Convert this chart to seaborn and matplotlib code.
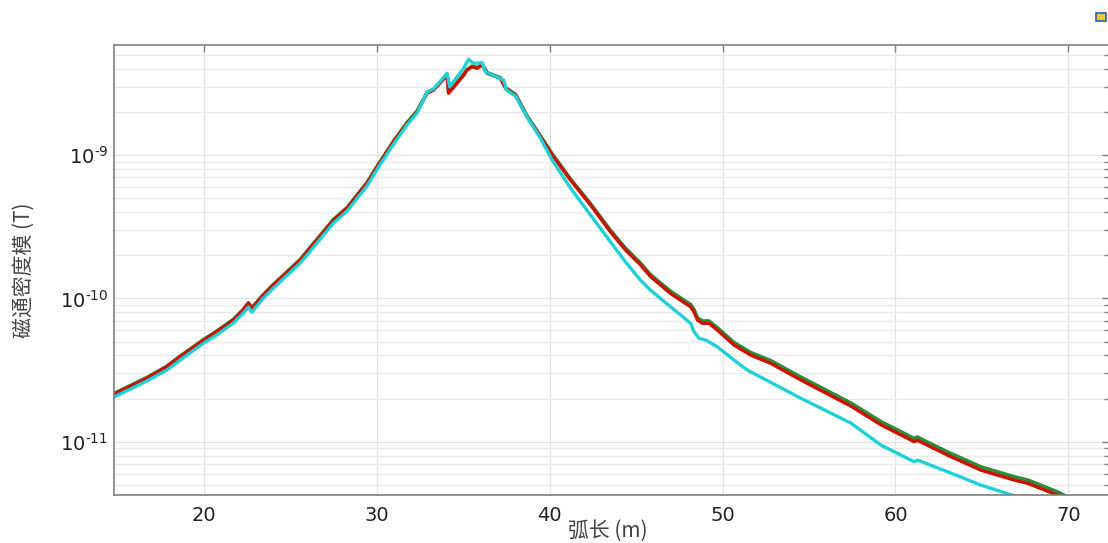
import matplotlib
matplotlib.use("Agg")
import matplotlib.pyplot as plt
import numpy as np
import pandas as pd
import seaborn as sns
from matplotlib.ticker import LogLocator, NullLocator, NullFormatter, FuncFormatter, FixedLocator
from matplotlib.patches import Rectangle

# ---- data (arc length in m, flux density norm in T) ----
arc_red = [14.81, 16.70, 17.86, 18.63, 20.00, 20.75, 21.71, 22.28, 22.58, 22.78,
           23.45, 24.03, 25.58, 27.50, 28.28, 29.44, 30.03, 30.79, 30.98, 31.75,
           32.33, 32.91, 33.29, 34.07, 34.16, 35.03, 35.23, 35.52, 35.81, 36.10,
           36.39, 37.16, 37.45, 38.03, 38.70, 39.47, 40.15, 41.21, 42.37, 43.53,
           44.40, 45.26, 45.84, 47.00, 48.16, 48.35, 48.55, 48.84, 49.22, 49.70,
           50.67, 51.63, 52.79, 54.54, 57.43, 59.17, 61.09, 61.25, 63.02, 64.95,
           66.88, 67.66, 69.39, 70.16]
B_red = [2.15e-11, 2.77e-11, 3.33e-11, 3.91e-11, 5.12e-11, 5.85e-11, 7.06e-11, 8.28e-11, 9.23e-11, 8.51e-11,
         1.054e-10, 1.24e-10, 1.85e-10, 3.52e-10, 4.25e-10, 6.36e-10, 8.28e-10, 1.143e-9, 1.24e-9, 1.66e-9,
         2.00e-9, 2.70e-9, 2.84e-9, 3.61e-9, 2.70e-9, 3.61e-9, 3.92e-9, 4.13e-9, 4.03e-9, 4.25e-9,
         3.72e-9, 3.43e-9, 2.92e-9, 2.62e-9, 1.85e-9, 1.34e-9, 1.00e-9, 6.69e-10, 4.48e-10, 2.90e-10,
         2.17e-10, 1.71e-10, 1.42e-10, 1.08e-10, 8.73e-11, 8.05e-11, 7.06e-11, 6.70e-11, 6.70e-11, 6.01e-11,
         4.72e-11, 4.02e-11, 3.52e-11, 2.69e-11, 1.77e-11, 1.31e-11, 1.00e-11, 1.026e-11, 8.05e-12, 6.33e-12,
         5.40e-12, 5.12e-12, 4.23e-12, 3.79e-12]

arc_green = arc_red
B_green = [2.17e-11, 2.80e-11, 3.36e-11, 3.95e-11, 5.17e-11, 5.91e-11, 7.13e-11, 8.36e-11, 9.32e-11, 8.60e-11,
           1.065e-10, 1.25e-10, 1.87e-10, 3.55e-10, 4.29e-10, 6.42e-10, 8.36e-10, 1.155e-9, 1.25e-9, 1.68e-9,
           2.02e-9, 2.73e-9, 2.87e-9, 3.65e-9, 2.73e-9, 3.65e-9, 3.96e-9, 4.17e-9, 4.07e-9, 4.29e-9,
           3.76e-9, 3.46e-9, 2.95e-9, 2.65e-9, 1.87e-9, 1.36e-9, 1.02e-9, 6.80e-10, 4.57e-10, 2.97e-10,
           2.23e-10, 1.76e-10, 1.46e-10, 1.12e-10, 9.05e-11, 8.35e-11, 7.33e-11, 6.96e-11, 6.96e-11, 6.25e-11,
           4.92e-11, 4.19e-11, 3.68e-11, 2.82e-11, 1.86e-11, 1.38e-11, 1.053e-11, 1.08e-11, 8.48e-12, 6.67e-12,
           5.69e-12, 5.40e-12, 4.46e-12, 4.00e-12]

arc_cyan = [14.81, 16.70, 17.86, 18.63, 20.00, 20.75, 21.71, 22.28, 22.58, 22.78,
            23.45, 24.03, 25.58, 27.50, 28.28, 29.44, 30.03, 30.79, 30.98, 31.75,
            32.33, 32.91, 33.29, 34.07, 34.22, 35.03, 35.31, 35.61, 36.10, 36.29,
            37.35, 37.50, 38.03, 38.70, 39.47, 40.15, 41.21, 42.37, 43.53, 44.40,
            45.26, 45.84, 47.00, 48.16, 48.35, 48.64, 49.03, 49.70, 50.67, 51.44,
            54.53, 57.42, 59.17, 61.09, 61.29, 63.02, 64.95, 66.74, 67.90]
B_cyan = [2.05e-11, 2.65e-11, 3.16e-11, 3.71e-11, 4.88e-11, 5.55e-11, 6.73e-11, 7.89e-11, 8.69e-11, 8.02e-11,
          1.005e-10, 1.18e-10, 1.76e-10, 3.35e-10, 4.06e-10, 6.08e-10, 7.98e-10, 1.10e-9, 1.19e-9, 1.62e-9,
          1.96e-9, 2.75e-9, 2.89e-9, 3.72e-9, 3.00e-9, 4.03e-9, 4.66e-9, 4.36e-9, 4.41e-9, 3.81e-9,
          3.33e-9, 2.84e-9, 2.58e-9, 1.84e-9, 1.31e-9, 9.23e-10, 5.89e-10, 3.81e-10, 2.47e-10, 1.79e-10,
          1.34e-10, 1.14e-10, 8.73e-11, 6.70e-11, 5.85e-11, 5.26e-11, 5.12e-11, 4.59e-11, 3.71e-11, 3.16e-11,
          2.01e-11, 1.35e-11, 9.46e-12, 7.24e-12, 7.44e-12, 6.17e-12, 4.98e-12, 4.24e-12, 3.79e-12]

x_ticks = [20, 30, 40, 50, 60, 70]
y_ticks = [1e-11, 1e-10, 1e-9]
x_label = "弧长 (m)"
y_label = "磁通密度模 (T)"

# ---- style ----
sns.set_style("white")
plt.rcParams["font.family"] = ["DejaVu Sans"]
cjk = ["Noto Sans CJK SC", "DejaVu Sans"]

W, H = 1108, 543
fig = plt.figure(figsize=(W / 100, H / 100), dpi=100)
ax = fig.add_axes([114 / W, 48 / H, 995 / W, 450 / H])

df_g = pd.DataFrame({"arc": arc_green, "B": B_green})
df_r = pd.DataFrame({"arc": arc_red, "B": B_red})
df_c = pd.DataFrame({"arc": arc_cyan, "B": B_cyan})

sns.lineplot(data=df_g, x="arc", y="B", ax=ax, color="#2e8b3a", lw=2.6, estimator=None, sort=False)
sns.lineplot(data=df_r, x="arc", y="B", ax=ax, color="#cc1100", lw=2.4, estimator=None, sort=False)
sns.lineplot(data=df_c, x="arc", y="B", ax=ax, color="#1fd0d6", lw=2.4, estimator=None, sort=False)

ax.set_yscale("log")
ax.set_xlim(14.81, 72.35)
ax.set_ylim(4.25e-12, 5.86e-9)

ax.set_xticks(x_ticks)
ax.xaxis.set_minor_locator(NullLocator())
ax.yaxis.set_major_locator(FixedLocator(y_ticks))
ax.yaxis.set_minor_locator(LogLocator(base=10, subs=np.arange(2, 10), numticks=20))
ax.yaxis.set_minor_formatter(NullFormatter())
ax.yaxis.set_major_formatter(
    FuncFormatter(lambda v, p: "$10^{\u2010%d}$" % int(round(-np.log10(v)))))

ax.grid(True, which="major", color="#e3e3e3", lw=0.9)
ax.grid(True, which="minor", axis="y", color="#ebebeb", lw=0.9)
ax.set_axisbelow(True)

for s in ax.spines.values():
    s.set_color("#808080")
    s.set_linewidth(1.2)

ax.tick_params(which="both", direction="in", top=True, right=True, color="#808080")
ax.tick_params(which="major", length=5, width=1, labelsize=14, labelcolor="#222222")
ax.tick_params(axis="y", which="major", pad=4)
ax.tick_params(axis="x", which="major", pad=8)
ax.tick_params(which="minor", length=3.5, width=1)

ax.set_xlabel(x_label, family=cjk, fontsize=15, color="#444444", va="center")
ax.xaxis.set_label_coords(0.4965, -0.0800)
ax.set_ylabel(y_label, family=cjk, fontsize=15, color="#444444", va="center")
ax.yaxis.set_label_coords(-(114 - 24) / 995, 0.5)

# small corner icon
fig.patches.append(Rectangle((1096 / W, 1 - 21 / H), 10 / W, 8 / H, transform=fig.transFigure,
                             facecolor="#e8c840", edgecolor="#2a5cc8", lw=1.2))

fig.savefig("out.png", dpi=100)
